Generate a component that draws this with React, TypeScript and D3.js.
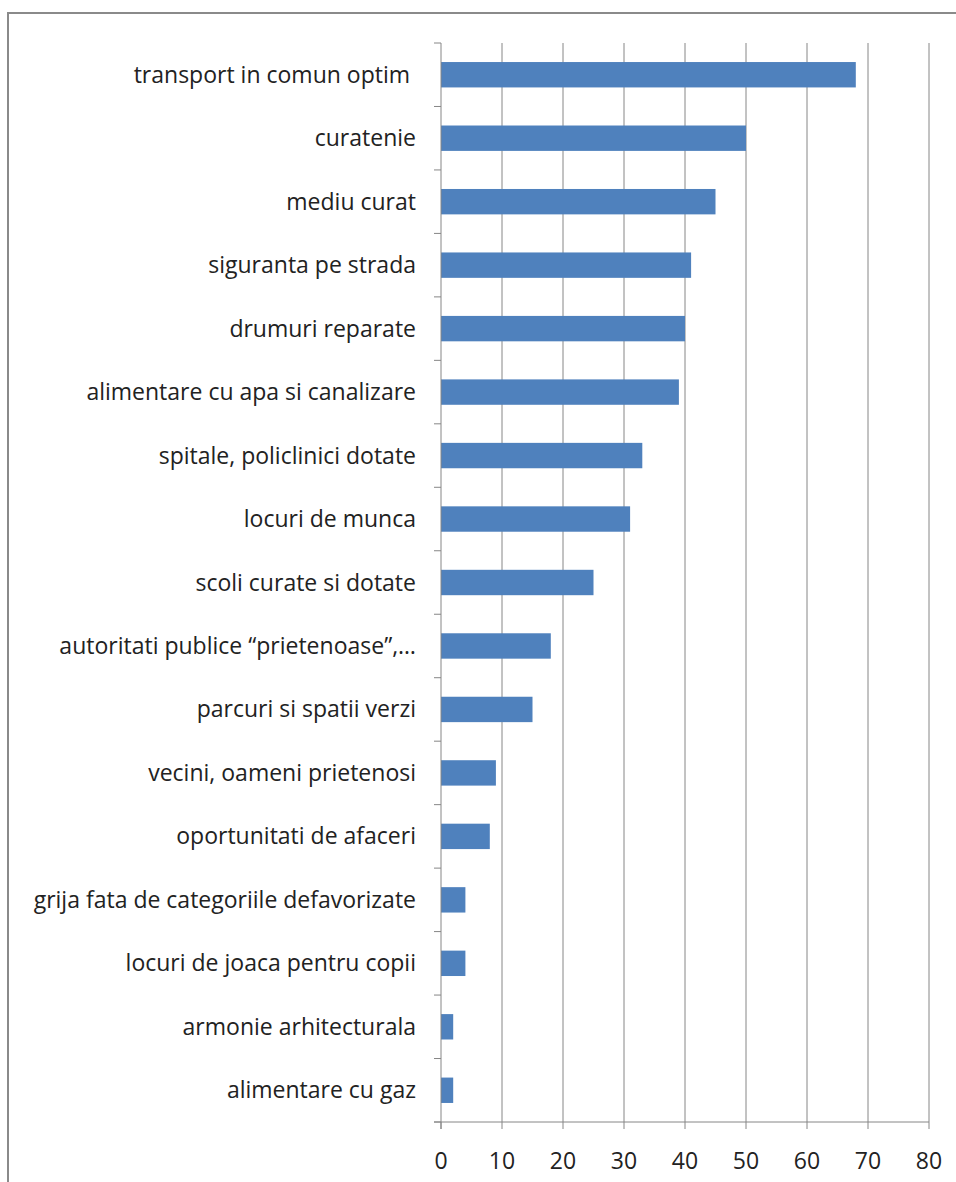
import React from "react";
import * as d3 from "d3";

const categories = [
  "transport in comun optim ",
  "curatenie",
  "mediu curat",
  "siguranta pe strada",
  "drumuri reparate",
  "alimentare cu apa si canalizare",
  "spitale, policlinici dotate",
  "locuri de munca",
  "scoli curate si dotate",
  "autoritati publice \u201cprietenoase\u201d,\u2026",
  "parcuri si spatii verzi",
  "vecini, oameni prietenosi",
  "oportunitati de afaceri",
  "grija fata de categoriile defavorizate",
  "locuri de joaca pentru copii",
  "armonie arhitecturala",
  "alimentare cu gaz",
];
const values = [68, 50, 45, 41, 40, 39, 33, 31, 25, 18, 15, 9, 8, 4, 4, 2, 2];
const xTicks = [0, 10, 20, 30, 40, 50, 60, 70, 80];

export default function App() {
  const W = 956, H = 1182;
  const left = 441, right = 929, top = 43, bottom = 1122;
  const x = d3.scaleLinear().domain([0, 80]).range([left, right]);
  const y = d3.scaleBand<string>().domain(categories).range([top, bottom]).paddingInner(0.6).paddingOuter(0.3);
  const band = (bottom - top) / categories.length;
  const grid = "#868686";
  const font = "'Open Sans', sans-serif";
  return (
    <svg width={W} height={H} style={{ position: "absolute", left: 0, top: 0, background: "#fff" }}>
      <rect x={8} y={13} width={W} height={H} fill="#fff" stroke="#8a8a8a" strokeWidth={2} />
      {xTicks.filter(t => t > 0).map(t => (
        <line key={"g" + t} x1={x(t)} x2={x(t)} y1={top} y2={bottom} stroke={grid} strokeWidth={1} />
      ))}
      {categories.map((c, i) => (
        <rect key={"b" + i} x={x(0)} y={y(c)!} width={x(values[i]) - x(0)} height={y.bandwidth()} fill="#4f81bd" />
      ))}
      <line x1={left} x2={left} y1={top} y2={bottom + 7} stroke={grid} strokeWidth={1} />
      {d3.range(categories.length + 1).map(i => (
        <line key={"yt" + i} x1={left - 7} x2={left} y1={top + i * band} y2={top + i * band} stroke={grid} strokeWidth={1} />
      ))}
      <line x1={left - 7} x2={right} y1={bottom} y2={bottom} stroke={grid} strokeWidth={1} />
      {xTicks.map(t => (
        <g key={"xt" + t}>
          <line x1={x(t)} x2={x(t)} y1={bottom} y2={bottom + 7} stroke={grid} strokeWidth={1} />
          <text x={x(t)} y={1169} textAnchor="middle" fontFamily={font} fontSize={23} fill="#222">{t}</text>
        </g>
      ))}
      {categories.map((c, i) => (
        <text key={"l" + i} x={416} y={y(c)! + y.bandwidth() / 2} dy="0.35em" textAnchor="end"
          fontFamily={font} fontSize={23} fill="#222" style={{ whiteSpace: "pre" }}>{c}</text>
      ))}
    </svg>
  );
}
